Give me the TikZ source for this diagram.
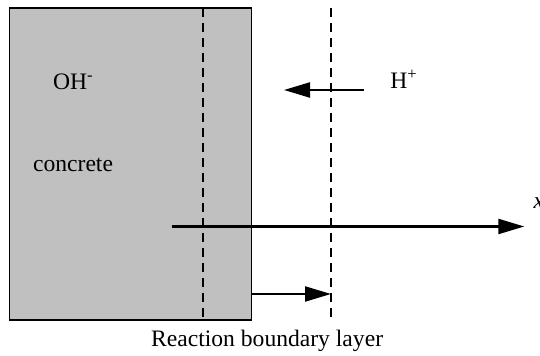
\documentclass[tikz,border=0pt]{standalone}
\usepackage{fontspec}
\setmainfont{Liberation Serif}
\usepackage{xcolor}
\usetikzlibrary{arrows.meta,positioning,calc}
\definecolor{concretegray}{HTML}{C0C0C0}

\begin{document}
\begin{tikzpicture}[
  x=0.5pt, y=-0.5pt,
  block/.style={draw, line width=0.75pt, fill=concretegray, inner sep=0pt,
    minimum width=121pt, minimum height=156pt},
  lbl/.style={inner sep=0pt, anchor=base west, font=\fontsize{11.8}{14}\selectfont},
  arr/.style={-{Triangle[length=13pt,width=7.5pt]}, line width=1.1pt},
  front/.style={line width=1.1pt, dash pattern=on 4.5pt off 3pt}
]
  \useasboundingbox (0,0) rectangle (540,356);
  \node[block] (block) at (130.4,164) {};
  \node[lbl] (oh) at (52.7,89.3) {OH\textsuperscript{-}};
  \node[lbl] (concrete) at (32.7,171.7) {concrete};
  \node[lbl] (hplus) at (390,88.3) {H\textsuperscript{+}};
  \node[lbl] (layer) at (150.7,346.7) {Reaction boundary layer};
  \node[lbl, font=\fontsize{11.8}{14}\selectfont\itshape] (xlabel) at (533.3,208.3) {x};
  % reaction fronts
  \coordinate (fronttop) at (203,8);
  \coordinate (frontbot) at (203,318);
  \coordinate (layertop) at (331,8);
  \coordinate (layerbot) at (331,316.7);
  \draw[front] (fronttop) -- (frontbot);
  \draw[front] (layertop) -- (layerbot);
  % x axis
  \coordinate (origin) at (171.5,226.5);
  \coordinate (xend) at (524.3,226.5);
  \draw[arr] (origin) -- (xend);
  % acid ingress
  \coordinate (hstart) at (364,90);
  \coordinate (hend) at (284,90);
  \draw[arr] (hstart) -- (hend);
  % layer growth
  \coordinate (growstart) at (block.east |- 0,294);
  \coordinate (growend) at (331,294);
  \draw[arr] (growstart) -- (growend);
\end{tikzpicture}
\end{document}
